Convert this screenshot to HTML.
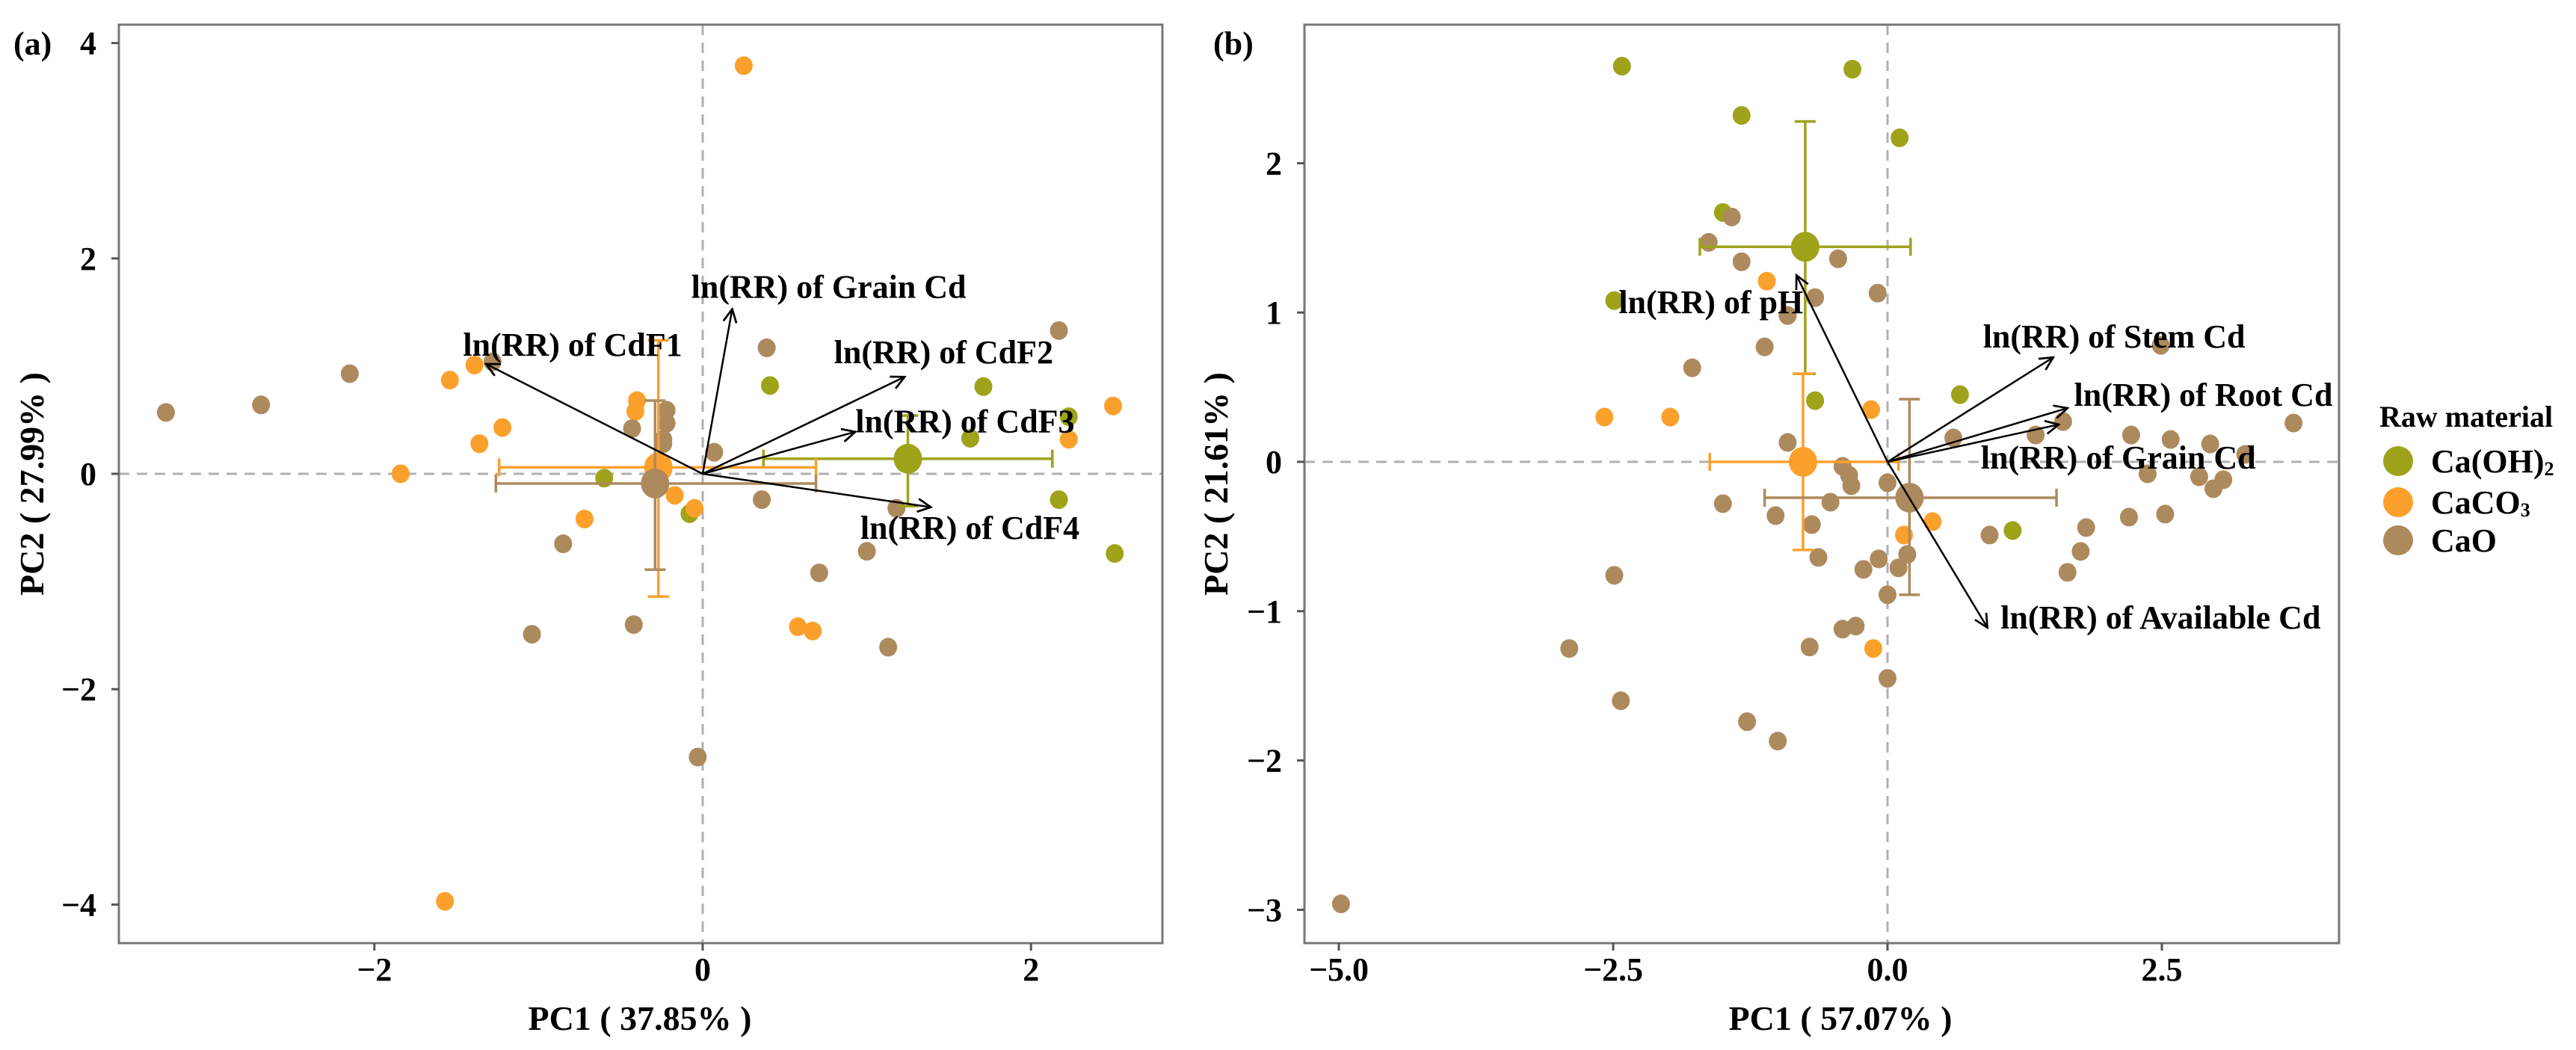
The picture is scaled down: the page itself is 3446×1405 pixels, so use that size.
<!DOCTYPE html>
<html><head><meta charset="utf-8">
<style>
html,body{margin:0;padding:0;background:#fff;}
svg{display:block;font-family:"Liberation Serif",serif;font-weight:bold;}
</style></head>
<body>
<svg id="chart" width="3446" height="1405" viewBox="0 0 3446 1405" xmlns="http://www.w3.org/2000/svg">
<defs>
<marker id="arr" viewBox="0 0 20 20" refX="18" refY="10" markerWidth="22" markerHeight="22" markerUnits="userSpaceOnUse" orient="auto">
<path d="M2,2 L18,10 L2,18" fill="none" stroke="#000" stroke-width="2.5"/>
</marker>
</defs>
<g id="panelA"></g>
<g id="panelB"></g>
<g id="legend">
  <text x="3183" y="571" font-size="40">Raw material</text>
  <g>
    <circle cx="3208" cy="617" r="20" fill="#9ea31a"/>
    <text x="3252" y="632" font-size="44">Ca(OH)<tspan font-size="26" dy="4">2</tspan></text>
  </g>
  <g>
    <circle cx="3208" cy="672" r="20" fill="#fca02c"/>
    <text x="3252" y="687" font-size="44">CaCO<tspan font-size="26" dy="4">3</tspan></text>
  </g>
  <g>
    <circle cx="3208" cy="723" r="20" fill="#ad8a5e"/>
    <text x="3252" y="738" font-size="44">CaO</text>
  </g>
</g>
</svg>
<script>
// ---------- Panel (a) data ----------
const aXTicks = [-2, 0, 2];
const aYTicks = [4, 2, 0, -2, -4];
const aGreenX = [0.41, 1.71, 2.23, 1.63, 2.17, 2.51, -0.60, -0.08];
const aGreenY = [0.82, 0.81, 0.53, 0.33, -0.24, -0.74, -0.04, -0.37];
const aOrangeX = [0.25, 2.50, 2.23, -1.39, -1.54, -1.22, -1.36, -0.40, -0.41, -1.84, -0.72, -0.17, -0.05, 0.58, 0.67, -1.57];
const aOrangeY = [3.79, 0.63, 0.32, 1.01, 0.87, 0.43, 0.28, 0.68, 0.58, 0.00, -0.42, -0.20, -0.32, -1.42, -1.46, -3.97];
const aBrownX = [-3.27, -2.69, -2.15, -1.28, 0.39, 2.17, -0.22, -0.22, -0.43, -0.24, -0.24, 0.07, 0.36, 1.18, -0.85, 1.00, 0.71, -0.42, -1.04, 1.13, -0.03];
const aBrownY = [0.57, 0.64, 0.93, 1.04, 1.17, 1.33, 0.59, 0.47, 0.42, 0.32, 0.28, 0.20, -0.24, -0.32, -0.65, -0.72, -0.92, -1.40, -1.49, -1.61, -2.63];
const aMeanX = [1.25, -0.27, -0.29];
const aMeanY = [0.14, 0.06, -0.09];
const aErrXLo = [0.37, -1.24, -1.26];
const aErrXHi = [2.13, 0.69, 0.69];
const aErrYLo = [-0.30, -1.14, -0.89];
const aErrYHi = [0.54, 1.24, 0.68];
const aArrowNames = ["ln(RR) of Grain Cd", "ln(RR) of CdF1", "ln(RR) of CdF2", "ln(RR) of CdF3", "ln(RR) of CdF4"];
const aArrowX = [0.18, -1.32, 1.23, 0.93, 1.39];
const aArrowY = [1.53, 1.02, 0.90, 0.39, -0.31];
const aLabelX = [-0.07, -1.46, 0.80, 0.93, 0.96];
const aLabelY = [1.74, 1.20, 1.13, 0.49, -0.50];

// ---------- Panel (b) data ----------
const bXTicks = [-5.0, -2.5, 0.0, 2.5];
const bXTickLabels = ["-5.0", "-2.5", "0.0", "2.5"];
const bYTicks = [2, 1, 0, -1, -2, -3];
const bGreenX = [-2.42, -0.32, -1.33, 0.11, -1.50, -2.49, -0.66, 0.66, 1.14];
const bGreenY = [2.65, 2.63, 2.32, 2.17, 1.67, 1.08, 0.41, 0.45, -0.46];
const bOrangeX = [-1.10, -0.15, -2.58, -1.98, 0.41, 0.15, -0.13];
const bOrangeY = [1.21, 0.35, 0.30, 0.30, -0.40, -0.49, -1.25];
const bBrownX = [-1.42, -1.63, -1.33, -0.45, -0.66, -0.09, -0.91, -1.12, -1.78, 2.49, 3.70, 1.60, 1.35, 0.60, 2.22, 2.58, 2.94, 3.26, 3.06, 2.84, 2.97, 2.37, 2.20, 2.53, 1.81, 0.93, 1.76, 1.64, -0.91, -0.41, -0.35, -0.33, 0.00, -1.50, -1.02, -0.52, -0.69, -0.63, -0.22, -0.08, 0.18, 0.10, 0.00, -2.49, -2.90, -0.71, -0.41, -0.29, 0.00, -2.43, -1.28, -1.00, -4.98];
const bBrownY = [1.64, 1.47, 1.34, 1.36, 1.10, 1.13, 0.98, 0.77, 0.63, 0.78, 0.26, 0.27, 0.18, 0.16, 0.18, 0.15, 0.12, 0.05, -0.12, -0.10, -0.18, -0.08, -0.37, -0.35, -0.44, -0.49, -0.60, -0.74, 0.13, -0.03, -0.09, -0.16, -0.14, -0.28, -0.36, -0.27, -0.42, -0.64, -0.72, -0.65, -0.62, -0.71, -0.89, -0.76, -1.25, -1.24, -1.12, -1.10, -1.45, -1.60, -1.74, -1.87, -2.96];
const bMeanX = [-0.75, -0.77, 0.20];
const bMeanY = [1.44, 0.00, -0.24];
const bErrXLo = [-1.71, -1.62, -1.12];
const bErrXHi = [0.21, 0.10, 1.54];
const bErrYLo = [0.59, -0.59, -0.89];
const bErrYHi = [2.28, 0.59, 0.42];
const bArrowNames = ["ln(RR) of pH", "ln(RR) of Stem Cd", "ln(RR) of Root Cd", "ln(RR) of Grain Cd", "ln(RR) of Available Cd"];
const bArrowX = [-0.83, 1.51, 1.64, 1.56, 0.91];
const bArrowY = [1.25, 0.70, 0.36, 0.25, -1.11];
const bLabelX = [-2.45, 0.87, 1.70, 0.85, 1.03];
const bLabelY = [1.07, 0.84, 0.45, 0.03, -1.04];

const groupColors = ["#9ea31a", "#fca02c", "#ad8a5e"];
const groupKeys = ["caoh2", "caco3", "cao"];
const NS = "http://www.w3.org/2000/svg";

function mk(parent, tag, attrs) {
  const e = document.createElementNS(NS, tag);
  for (const k in attrs) e.setAttribute(k, attrs[k]);
  parent.appendChild(e);
  return e;
}

function drawPanel(g, cfg) {
  const sx = v => cfg.x0 + v * cfg.kx;
  const sy = v => cfg.y0 - v * cfg.ky;
  let l = mk(g, "line", {x1: cfg.L, x2: cfg.R, y1: sy(0), y2: sy(0), stroke: "#b0b0b0", "stroke-width": 3, "stroke-dasharray": "14 10"});
  
  
  l = mk(g, "line", {x1: sx(0), x2: sx(0), y1: cfg.T, y2: cfg.B, stroke: "#b0b0b0", "stroke-width": 3, "stroke-dasharray": "14 10"});
  
  
  const fr = mk(g, "rect", {x: cfg.L, y: cfg.T, width: cfg.R - cfg.L, height: cfg.B - cfg.T, fill: "none", stroke: "#777", "stroke-width": 3});
  
  
  cfg.xt.forEach((v, i) => {
    const t = mk(g, "line", {x1: sx(v), x2: sx(v), y1: cfg.B, y2: cfg.B + 10, stroke: "#555", "stroke-width": 3});
    
    
    const tx = mk(g, "text", {x: sx(v), y: cfg.B + 50, "font-size": 44, "text-anchor": "middle"});
    tx.textContent = (cfg.xtl ? cfg.xtl[i] : String(v)).replace("-", "\u2212");
    
    
  });
  cfg.yt.forEach(v => {
    const t = mk(g, "line", {x1: cfg.L - 10, x2: cfg.L, y1: sy(v), y2: sy(v), stroke: "#555", "stroke-width": 3});
    
    
    const tx = mk(g, "text", {x: cfg.L - 30, y: sy(v) + 15, "font-size": 44, "text-anchor": "end"});
    tx.textContent = String(v).replace("-", "\u2212");
    
    
  });
  cfg.pts.forEach((p, gi) => {
    p[0].forEach((xv, i) => {
      const c = mk(g, "ellipse", {cx: sx(xv), cy: sy(p[1][i]), rx: 12, ry: 12.5, fill: groupColors[gi]});
      
      
    });
  });
  cfg.mx.forEach((mxv, gi) => {
    const col = groupColors[gi];
    const myv = cfg.my[gi];
    const eg = mk(g, "g", {stroke: col, "stroke-width": 3.5, fill: "none"});
    
    
    mk(eg, "line", {x1: sx(cfg.exl[gi]), x2: sx(cfg.exh[gi]), y1: sy(myv), y2: sy(myv)});
    mk(eg, "line", {x1: sx(cfg.exl[gi]), x2: sx(cfg.exl[gi]), y1: sy(myv) - 12, y2: sy(myv) + 12});
    mk(eg, "line", {x1: sx(cfg.exh[gi]), x2: sx(cfg.exh[gi]), y1: sy(myv) - 12, y2: sy(myv) + 12});
    mk(eg, "line", {x1: sx(mxv), x2: sx(mxv), y1: sy(cfg.eyl[gi]), y2: sy(cfg.eyh[gi])});
    mk(eg, "line", {x1: sx(mxv) - 14, x2: sx(mxv) + 14, y1: sy(cfg.eyl[gi]), y2: sy(cfg.eyl[gi])});
    mk(eg, "line", {x1: sx(mxv) - 14, x2: sx(mxv) + 14, y1: sy(cfg.eyh[gi]), y2: sy(cfg.eyh[gi])});
    const m = mk(g, "ellipse", {cx: sx(mxv), cy: sy(myv), rx: 19, ry: 20, fill: col});
    
    
  });
  cfg.an.forEach((name, i) => {
    const a = mk(g, "line", {x1: sx(0), y1: sy(0), x2: sx(cfg.ax[i]), y2: sy(cfg.ay[i]), stroke: "#000", "stroke-width": 2.5, "marker-end": "url(#arr)"});
    
    
    const t = mk(g, "text", {x: sx(cfg.lx[i]), y: sy(cfg.ly[i]) + 15, "font-size": 44});
    t.textContent = name;
    
    
  });
  const xt = mk(g, "text", {x: cfg.xtx, y: 1378, "font-size": 46, "text-anchor": "middle"});
  xt.textContent = cfg.xTitle;
  
  
  const yt = mk(g, "text", {x: 0, y: 0, "font-size": 46, "text-anchor": "middle", transform: "translate(" + cfg.ytx + "," + ((cfg.T + cfg.B) / 2) + ") rotate(-90)"});
  yt.textContent = cfg.yTitle;
  
  
  const pl = mk(g, "text", {x: cfg.plx, y: 73, "font-size": 44});
  pl.textContent = cfg.panelLabel;
  
  
}

drawPanel(document.getElementById("panelA"), {
  L: 159, R: 1555, T: 33, B: 1262, x0: 940, kx: 219.6, y0: 634, ky: 144.1,
  xt: aXTicks, yt: aYTicks,
  pts: [[aGreenX, aGreenY], [aOrangeX, aOrangeY], [aBrownX, aBrownY]],
  mx: aMeanX, my: aMeanY, exl: aErrXLo, exh: aErrXHi, eyl: aErrYLo, eyh: aErrYHi,
  an: aArrowNames, ax: aArrowX, ay: aArrowY, lx: aLabelX, ly: aLabelY,
  xTitle: "PC1 ( 37.85% )", yTitle: "PC2 ( 27.99% )", xtx: 856, ytx: 58, plx: 18, panelLabel: "(a)"
});
drawPanel(document.getElementById("panelB"), {
  L: 1745, R: 3129, T: 33, B: 1262, x0: 2525, kx: 146.8, y0: 618, ky: 199.8,
  xt: bXTicks, xtl: bXTickLabels, yt: bYTicks,
  pts: [[bGreenX, bGreenY], [bOrangeX, bOrangeY], [bBrownX, bBrownY]],
  mx: bMeanX, my: bMeanY, exl: bErrXLo, exh: bErrXHi, eyl: bErrYLo, eyh: bErrYHi,
  an: bArrowNames, ax: bArrowX, ay: bArrowY, lx: bLabelX, ly: bLabelY,
  xTitle: "PC1 ( 57.07% )", yTitle: "PC2 ( 21.61% )", xtx: 2462, ytx: 1642, plx: 1623, panelLabel: "(b)"
});
</script>
</body></html>
